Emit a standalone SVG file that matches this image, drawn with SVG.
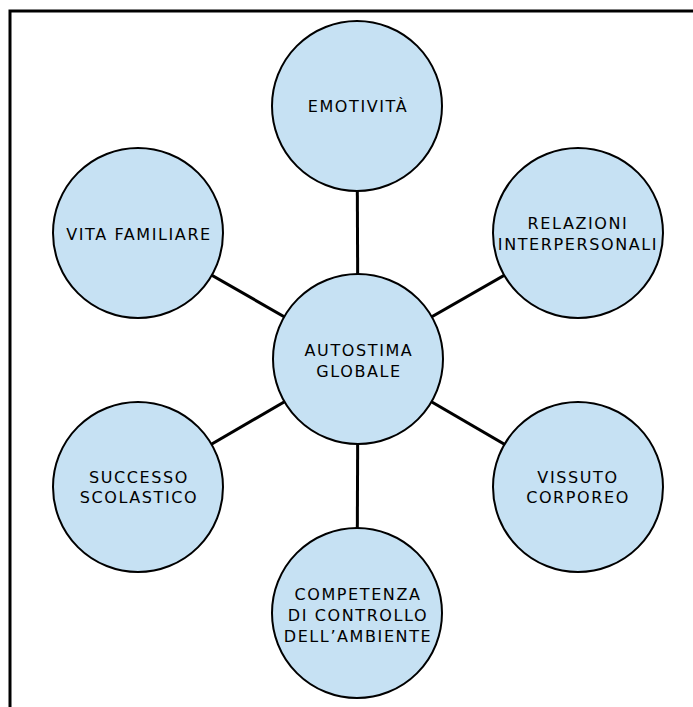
<svg xmlns="http://www.w3.org/2000/svg" width="693" height="707" viewBox="0 0 693 707">
<style>
.node{fill:#c6e1f3;stroke:#000;stroke-width:2}
.lbl{font-family:"Comic Sans MS","DejaVu Sans",sans-serif;font-size:16px;letter-spacing:1.6px;fill:#000;text-anchor:middle}
.conn{stroke:#000;stroke-width:3;fill:none}
</style>
<rect width="693" height="707" fill="#fff"/>
<path d="M10 707 V11 H693" fill="none" stroke="#000" stroke-width="3"/>
<g id="connectors">
<line class="conn" x1="358" y1="359" x2="357" y2="106"/>
<line class="conn" x1="358" y1="359" x2="138" y2="233"/>
<line class="conn" x1="358" y1="359" x2="578" y2="233"/>
<line class="conn" x1="358" y1="359" x2="138" y2="487"/>
<line class="conn" x1="358" y1="359" x2="578" y2="487"/>
<line class="conn" x1="358" y1="359" x2="357" y2="613"/>
</g>
<g id="emotivita">
<circle class="node" cx="357" cy="106" r="85"/>
<text class="lbl" x="358" y="112">EMOTIVITÀ</text>
</g>
<g id="vita-familiare">
<circle class="node" cx="138" cy="233" r="85"/>
<text class="lbl" x="139" y="240">VITA FAMILIARE</text>
</g>
<g id="relazioni">
<circle class="node" cx="578" cy="233" r="85"/>
<text class="lbl" x="578" y="229">RELAZIONI</text>
<text class="lbl" x="578" y="250">INTERPERSONALI</text>
</g>
<g id="autostima">
<circle class="node" cx="358" cy="359" r="85"/>
<text class="lbl" x="359" y="356">AUTOSTIMA</text>
<text class="lbl" x="359" y="377">GLOBALE</text>
</g>
<g id="successo">
<circle class="node" cx="138" cy="487" r="85"/>
<text class="lbl" x="139" y="483">SUCCESSO</text>
<text class="lbl" x="139" y="503">SCOLASTICO</text>
</g>
<g id="vissuto">
<circle class="node" cx="578" cy="487" r="85"/>
<text class="lbl" x="578" y="483">VISSUTO</text>
<text class="lbl" x="578" y="503">CORPOREO</text>
</g>
<g id="competenza">
<circle class="node" cx="357" cy="613" r="85"/>
<text class="lbl" x="358" y="600">COMPETENZA</text>
<text class="lbl" x="358" y="621">DI CONTROLLO</text>
<text class="lbl" x="358" y="642">DELL’AMBIENTE</text>
</g>
</svg>
